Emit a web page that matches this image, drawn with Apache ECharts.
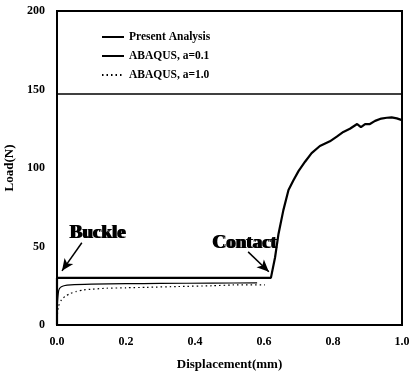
<!DOCTYPE html>
<html><head><meta charset="utf-8">
<script src="https://cdn.jsdelivr.net/npm/echarts@6/dist/echarts.min.js"></script>
<style>html,body{margin:0;padding:0;background:#fff}#c{width:409px;height:372px}</style>
</head><body><div id="c"></div>
<script>
const xTicks = [0, 0.2, 0.4, 0.6, 0.8, 1.0];
const yTicks = [0, 50, 100, 150, 200];
const seriesNames = ['Present Analysis', 'ABAQUS, a=0.1', 'ABAQUS, a=1.0'];
const presentX = [0, 0, 0.62, 0.632, 0.642, 0.656, 0.671, 0.685, 0.70, 0.719, 0.738, 0.762, 0.791, 0.811, 0.83, 0.849, 0.87, 0.881, 0.893, 0.907, 0.922, 0.94, 0.956, 0.97, 0.985, 1.0];
const presentY = [0, 30, 30, 43, 58, 73, 86, 92, 98, 104, 109.5, 114, 117, 120, 123, 125, 128, 126, 128, 128, 130, 131.5, 132, 132.2, 131.6, 130.5];
const a01X = [0, 0.002, 0.005, 0.01, 0.02, 0.04, 0.1, 0.2, 0.3, 0.45, 0.58];
const a01Y = [8, 16, 22, 24, 25, 25.6, 26, 26.3, 26.5, 26.7, 26.8];
const a10X = [0, 0.004, 0.013, 0.025, 0.038, 0.055, 0.076, 0.1, 0.144, 0.2, 0.26, 0.35, 0.45, 0.51, 0.603];
const a10Y = [4, 11.7, 16, 18.5, 20, 21.3, 22.3, 22.8, 23.4, 23.7, 24, 24.5, 25, 25.5, 25.6];
const legendBoxY = 147;
const buckleText = 'Buckle', buckleAt = [0.116, 58.5], buckleArrow = [[0.072, 52.4], [0.0145, 34.5]];
const contactText = 'Contact', contactAt = [0.542, 52], contactArrow = [[0.554, 46.6], [0.614, 33.9]];

const zip = (xs, ys) => xs.map((x, i) => [x, ys[i]]);
const F = 'Liberation Serif';
const annoLabel = (t, p, dx) => ({
  coord: p, value: 0, symbol: 'circle', symbolSize: 0,
  itemStyle: {color: 'rgba(0,0,0,0)'},
  label: {show: true, position: 'inside', formatter: t, color: '#000', fontFamily: F, fontWeight: 'bold', fontSize: 19, offset: [dx, 0]}
});
const arrow = (a) => [{coord: a[0], symbol: 'none'}, {coord: a[1], symbol: 'arrow', symbolSize: [8, 12]}];

const chart = echarts.init(document.getElementById('c'));
chart.setOption({
  animation: false,
  backgroundColor: '#fff',
  grid: {left: 57, right: 7, top: 11, bottom: 47, show: true, borderColor: '#000', borderWidth: 2, outerBoundsMode: 'none', containLabel: false},
  legend: {
    orient: 'vertical', left: 96, top: 26, itemWidth: 22, itemHeight: 12, itemGap: 7,
    data: seriesNames, itemStyle: {opacity: 0},
    textStyle: {fontFamily: F, fontWeight: 'bold', fontSize: 11.5, color: '#000'}
  },
  xAxis: {
    type: 'value', min: 0, max: 1, interval: 0.2,
    name: 'Displacement(mm)', nameLocation: 'middle', nameGap: 33,
    nameTextStyle: {fontFamily: F, fontWeight: 'bold', fontSize: 13, color: '#000'},
    axisLine: {show: true, lineStyle: {color: '#000', width: 2}},
    axisTick: {show: false}, splitLine: {show: false},
    axisLabel: {margin: 11, fontFamily: F, fontWeight: 'bold', fontSize: 12, color: '#000', formatter: v => v.toFixed(1)}
  },
  yAxis: {
    type: 'value', min: 0, max: 200, interval: 50,
    name: 'Load(N)', nameLocation: 'middle', nameGap: 35,
    nameTextStyle: {fontFamily: F, fontWeight: 'bold', fontSize: 13, color: '#000'},
    axisLine: {show: true, lineStyle: {color: '#000', width: 2}},
    axisTick: {show: false}, splitLine: {show: false},
    axisLabel: {margin: 12, fontFamily: F, fontWeight: 'bold', fontSize: 12, color: '#000'}
  },
  series: [
    {
      name: seriesNames[0], type: 'line', data: zip(presentX, presentY), symbol: 'none',
      lineStyle: {color: '#000', width: 2.2}, itemStyle: {color: '#000'}, z: 5,
      markLine: {
        silent: true, symbol: 'none', label: {show: false},
        lineStyle: {color: '#000', width: 1.5, type: 'solid'},
        data: [{yAxis: legendBoxY}, arrow(buckleArrow), arrow(contactArrow)]
      },
      markPoint: {
        silent: true,
        data: [annoLabel(buckleText, buckleAt, 0), annoLabel(buckleText, buckleAt, 1.5),
               annoLabel(contactText, contactAt, 0), annoLabel(contactText, contactAt, 1.5)]
      }
    },
    {
      name: seriesNames[1], type: 'line', data: zip(a01X, a01Y), symbol: 'none', smooth: 0.2,
      lineStyle: {color: '#000', width: 1.2}, itemStyle: {color: '#000'}
    },
    {
      name: seriesNames[2], type: 'line', data: zip(a10X, a10Y), symbol: 'none', smooth: 0.2,
      lineStyle: {color: '#000', width: 1.2, type: [1.5, 3]}, itemStyle: {color: '#000'}
    }
  ]
});
</script></body></html>
